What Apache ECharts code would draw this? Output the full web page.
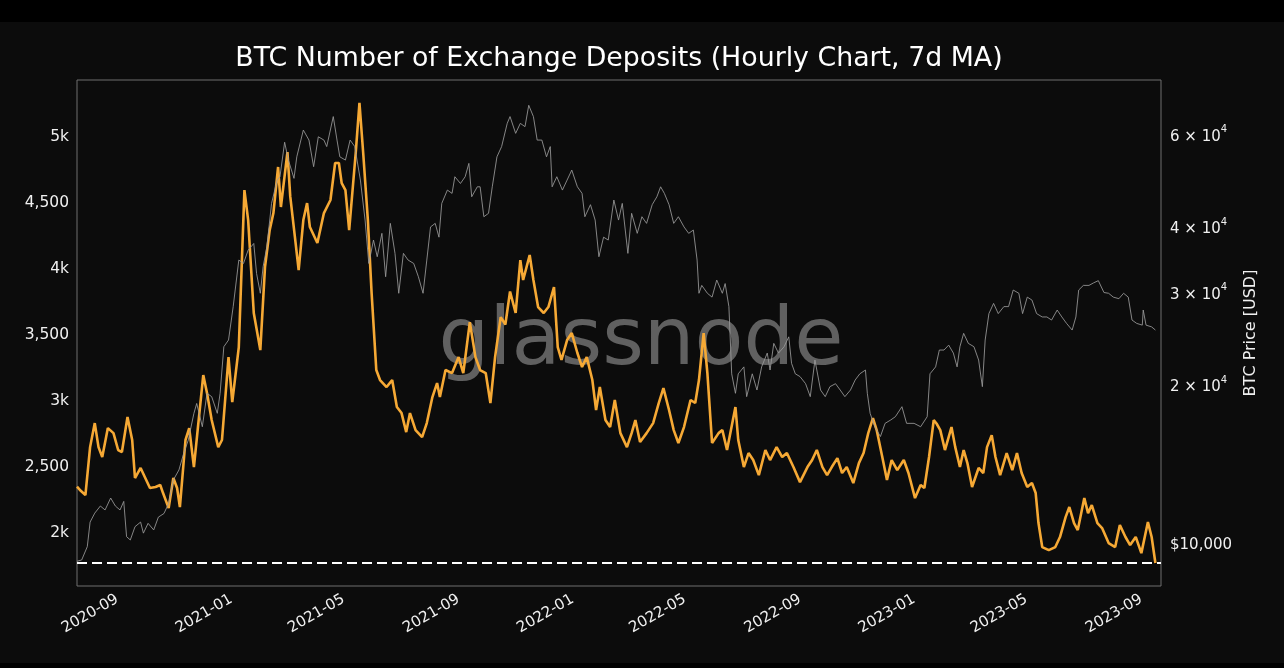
<!DOCTYPE html>
<html><head><meta charset="utf-8">
<script src="https://cdn.jsdelivr.net/npm/echarts@6/dist/echarts.min.js"></script>
<style>html,body{margin:0;padding:0;background:#0c0c0c;}#c{width:1284px;height:668px;}</style>
</head><body><div id="c"></div><script>
// ---- data (day offsets are days since 2020-09-01) ----
const TITLE = 'BTC Number of Exchange Deposits (Hourly Chart, 7d MA)';
const BASE_DATE = [2020, 9, 1];
const xRange = ['2020-07-20', '2023-09-22'];
const monthTicks = ['2020-09-01','2021-01-01','2021-05-01','2021-09-01','2022-01-01','2022-05-01','2022-09-01','2023-01-01','2023-05-01','2023-09-01'];
const depositTicks = [2000, 2500, 3000, 3500, 4000, 4500, 5000];
const depositRange = [1599, 5432];
const priceTicks = [10000, 20000, 30000, 40000, 60000];
const priceRange = [8280, 76200];
const refLevel = 1773;

const deposits = [
[-43,2351],[-39,2320],[-34,2288],[-29,2651],[-24,2833],[-20,2651],[-16,2576],[-10,2795],[-4,2757],[1,2629],
[5,2614],[11,2879],[16,2705],[19,2417],[25,2493],[30,2417],[35,2341],[41,2349],[46,2364],[49,2303],
[55,2189],[60,2417],[64,2341],[67,2197],[73,2705],[77,2795],[82,2500],[86,2780],[92,3197],[96,3061],
[101,2856],[108,2651],[112,2705],[119,3333],[123,2992],[130,3409],[136,4598],[140,4371],[146,3667],[153,3386],
[158,4015],[163,4295],[167,4424],[172,4773],[175,4470],[182,4886],[185,4550],[190,4242],[194,3992],[199,4371],
[203,4500],[206,4318],[214,4197],[221,4424],[228,4523],[233,4803],[237,4803],[240,4651],[244,4598],[248,4295],
[255,4879],[259,5258],[263,4879],[268,4371],[272,3818],[277,3235],[281,3159],[288,3106],[294,3159],[299,2955],
[304,2909],[309,2765],[313,2909],[319,2780],[326,2727],[331,2833],[337,3030],[342,3136],[345,3030],[351,3235],
[358,3212],[365,3333],[370,3212],[377,3598],[383,3333],[388,3235],[394,3212],[399,2985],[404,3333],[410,3636],
[415,3580],[420,3830],[426,3667],[431,4068],[434,3917],[441,4106],[445,3917],[450,3712],[456,3667],[461,3712],
[467,3864],[471,3409],[475,3311],[481,3462],[486,3515],[492,3364],[497,3258],[502,3333],[508,3159],[512,2932],
[516,3106],[522,2856],[527,2803],[532,3008],[538,2757],[545,2651],[550,2757],[554,2856],[559,2690],[566,2757],
[573,2833],[579,2985],[584,3098],[590,2932],[595,2780],[600,2682],[606,2803],[613,3008],[618,2985],[622,3159],
[627,3515],[631,3212],[636,2682],[643,2757],[647,2780],[652,2629],[661,2955],[664,2705],[670,2500],[675,2606],
[680,2553],[686,2439],[693,2629],[698,2553],[705,2651],[711,2576],[716,2606],[723,2500],[730,2386],[738,2500],
[743,2553],[748,2629],[754,2500],[759,2439],[764,2500],[770,2568],[775,2455],[780,2500],[787,2379],[793,2530],
[798,2606],[803,2757],[808,2871],[812,2780],[818,2576],[823,2402],[828,2553],[834,2477],[841,2553],[846,2455],
[853,2265],[859,2364],[863,2341],[868,2576],[873,2856],[876,2830],[880,2780],[885,2629],[892,2803],[896,2651],
[901,2500],[905,2629],[909,2530],[914,2349],[921,2493],[926,2455],[930,2651],[935,2742],[939,2576],[944,2439],
[951,2606],[957,2477],[962,2606],[967,2455],[973,2349],[978,2379],[982,2303],[985,2076],[989,1894],[996,1871],
[1003,1894],[1008,1970],[1014,2121],[1018,2197],[1023,2076],[1027,2023],[1034,2265],[1038,2151],[1042,2212],[1048,2076],
[1053,2038],[1060,1924],[1067,1894],[1072,2061],[1078,1970],[1083,1909],[1089,1970],[1095,1848],[1102,2083],[1106,1970],
[1110,1773]
];

const prices = [
[-43,9230],[-38,9281],[-32,9840],[-29,10960],[-24,11400],[-18,11760],[-13,11558],[-7,12180],[-2,11760],[3,11558],
[7,12000],[10,10280],[14,10132],[19,10740],[25,10960],[28,10440],[33,10900],[39,10587],[44,11200],[50,11380],
[55,11900],[60,13183],[66,13775],[71,14800],[76,15711],[82,17660],[85,18440],[91,16650],[96,19280],[101,19000],
[107,17660],[110,19280],[114,23650],[119,24355],[124,28200],[130,34591],[135,34080],[140,36142],[146,37200],[149,32620],
[153,29900],[156,33600],[160,36650],[165,44350],[171,49128],[174,49850],[179,58000],[183,53632],[189,49500],[192,54400],
[199,61173],[205,58548],[210,52100],[215,59400],[221,58548],[224,56900],[231,64900],[235,58548],[238,54400],[244,53632],
[249,58548],[254,56900],[260,49128],[265,41224],[269,34080],[274,37762],[278,35100],[283,38890],[287,32150],[292,40630],
[297,35620],[301,29900],[306,35620],[311,34591],[317,34080],[322,32150],[327,29900],[331,34591],[335,40000],[340,40630],
[344,38240],[347,44350],[353,47020],[358,46340],[361,49850],[367,48400],[372,49850],[376,52860],[379,45660],[385,47700],
[388,47700],[392,41830],[397,42460],[401,47700],[406,54400],[411,56900],[417,63000],[420,64900],[426,60300],[431,63000],
[436,62100],[440,68200],[445,64900],[449,58548],[454,58548],[459,54400],[463,56900],[465,47700],[470,49850],[476,47020],
[481,49128],[486,51331],[492,47700],[497,46340],[500,41830],[506,44100],[511,41224],[515,35100],[520,38240],[525,37762],
[531,45003],[536,41224],[540,44350],[546,35620],[550,42460],[556,38890],[561,41830],[566,40630],[572,44100],[577,45660],
[581,47700],[585,46340],[590,44100],[595,40630],[600,41830],[606,40000],[611,38890],[616,39455],[620,34591],[622,29900],
[625,30950],[631,29900],[636,29400],[641,31686],[647,29900],[650,31200],[654,28200],[657,21000],[661,19280],[664,21000],
[670,21650],[673,19000],[679,21000],[684,19560],[689,21650],[695,23000],[698,21353],[702,24000],[707,23000],[713,23650],
[718,24700],[721,21990],[725,21000],[730,20750],[736,20110],[741,19000],[746,22310],[752,19560],[757,19000],[762,19850],
[768,20110],[773,19560],[778,19000],[784,19560],[789,20437],[794,21000],[800,21353],[802,19280],[805,17660],[810,16650],
[816,15950],[821,16900],[827,17150],[832,17400],[839,18180],[844,16900],[852,16900],[859,16650],[866,17400],[869,21000],
[875,21650],[879,23310],[884,23310],[889,23820],[894,23000],[898,21650],[901,23650],[905,25080],[910,24000],[916,23650],
[921,22310],[925,19850],[928,24355],[932,27350],[937,28600],[942,27350],[948,28200],[953,28200],[958,30327],[964,29900],
[968,27350],[973,29400],[978,29025],[983,27350],[989,26950],[994,26950],[999,26588],[1005,27780],[1010,26950],[1015,26200],
[1021,25447],[1025,26950],[1028,30327],[1033,30950],[1039,30950],[1044,31300],[1049,31600],[1055,30000],[1060,29900],[1065,29400],
[1071,29200],[1076,29900],[1081,29400],[1085,26588],[1090,26200],[1096,26000],[1097,27780],[1100,26000],[1106,25800],[1110,25447]
];

// ---- helpers ----
const DAY = 86400000;
const BASE = Date.UTC(BASE_DATE[0], BASE_DATE[1] - 1, BASE_DATE[2]);
const ts = s => { const p = s.split('-').map(Number); return Date.UTC(p[0], p[1] - 1, p[2]); };
const toPts = arr => arr.map(([d, v]) => [BASE + d * DAY, v]);
const FONT = 'DejaVu Sans';
const LABEL = '#f0f0f0';

const chart = echarts.init(document.getElementById('c'), null, { renderer: 'canvas' });
chart.setOption({
  backgroundColor: '#0c0c0c',
  animation: false,
  title: {
    text: TITLE, left: 619, top: 46, textAlign: 'center', padding: 0,
    textStyle: { color: '#ffffff', fontSize: 26.8, fontWeight: 'normal', fontFamily: FONT }
  },
  grid: { left: 77, right: 123, top: 80, bottom: 82, show: true, borderColor: '#6e6e6e', borderWidth: 1, backgroundColor: 'transparent' },
  xAxis: {
    type: 'value', min: ts(xRange[0]), max: ts(xRange[1]),
    axisLine: { show: false }, axisTick: { show: false }, splitLine: { show: false },
    axisLabel: {
      customValues: monthTicks.map(ts), rotate: 30, margin: 12, color: LABEL, fontSize: 15, fontFamily: FONT,
      formatter: v => { const d = new Date(v); return d.getUTCFullYear() + '-' + String(d.getUTCMonth() + 1).padStart(2, '0'); }
    }
  },
  yAxis: [
    {
      type: 'value', min: depositRange[0], max: depositRange[1],
      axisLine: { show: false }, axisTick: { show: false }, splitLine: { show: false },
      axisLabel: {
        customValues: depositTicks, margin: 8, color: LABEL, fontSize: 15.5, fontFamily: FONT,
        formatter: v => (v % 1000 === 0 ? (v / 1000) + 'k' : v.toLocaleString('en-US'))
      }
    },
    {
      type: 'log', logBase: 10, min: priceRange[0], max: priceRange[1], position: 'right',
      axisLine: { show: false }, axisTick: { show: false }, splitLine: { show: false },
      name: 'BTC Price [USD]', nameLocation: 'middle', nameGap: 80, nameRotate: 90,
      nameTextStyle: { color: LABEL, fontSize: 16, fontFamily: FONT },
      axisLabel: {
        customValues: priceTicks, margin: 9, color: LABEL, fontSize: 15, fontFamily: FONT,
        formatter: v => (v === 10000 ? '{m|$10,000}' : '{m|' + Math.round(v / 10000) + ' × 10}{s|4}'),
        rich: {
          m: { color: LABEL, fontSize: 15, fontFamily: FONT, lineHeight: 20, verticalAlign: 'bottom', padding: [4, 0, 0, 0] },
          s: { color: LABEL, fontSize: 10, fontFamily: FONT, lineHeight: 20, verticalAlign: 'top', padding: [0, 0, 0, 0] }
        }
      }
    }
  ],
  graphic: [
    { type: 'rect', silent: true, z: -10, shape: { x: 0, y: 0, width: 1284, height: 22 }, style: { fill: '#000000' } },
    { type: 'rect', silent: true, z: -10, shape: { x: 0, y: 663, width: 1284, height: 5 }, style: { fill: '#000000' } },
    { type: 'text', silent: true, z: 0, x: 641, y: 343,
      style: { text: 'glassnode', fill: '#606060', fontSize: 80, fontFamily: FONT, fontWeight: 'normal', align: 'center', verticalAlign: 'middle' } }
  ],
  series: [
    {
      name: 'Exchange Deposits', type: 'line', xAxisIndex: 0, yAxisIndex: 0, data: toPts(deposits),
      showSymbol: false, symbol: 'none', z: 3,
      lineStyle: { color: '#f6a935', width: 2.6 },
      markLine: {
        silent: true, symbol: 'none', label: { show: false },
        lineStyle: { color: '#ffffff', type: [10, 5], width: 2 },
        data: [{ yAxis: refLevel }]
      }
    },
    {
      name: 'BTC Price', type: 'line', xAxisIndex: 0, yAxisIndex: 1, data: toPts(prices),
      showSymbol: false, symbol: 'none', z: 4,
      lineStyle: { color: '#9a9a9a', width: 1, opacity: 0.85 }
    }
  ]
});
</script></body></html>
